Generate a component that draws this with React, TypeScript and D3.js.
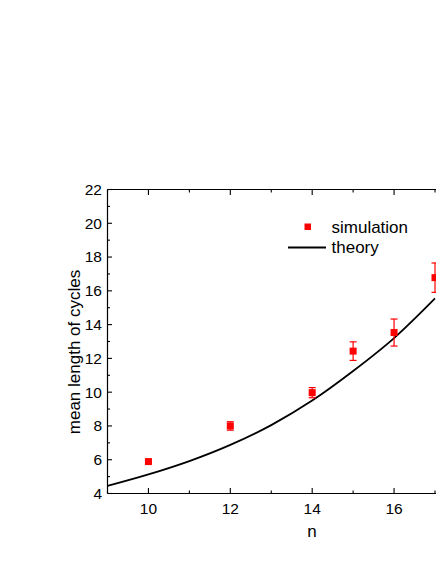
import React from 'react';
import * as d3 from 'd3';

// simulation results: mean cycle length with error bars
const simN = [10, 12, 14, 15, 16, 17];
const simMean = [5.89, 8.0, 9.97, 12.43, 13.53, 16.78];
const simErr = [0.08, 0.25, 0.3, 0.55, 0.8, 0.87];

const theoryN = [9, 10, 11, 12, 13, 14, 15, 16, 17];
const theoryLen = [4.45, 5.13, 5.92, 6.88, 8.05, 9.5, 11.25, 13.2, 15.55];

const xMajor = [10, 12, 14, 16];
const xMinor = [9, 11, 13, 15, 17];
const yMajor = [4, 6, 8, 10, 12, 14, 16, 18, 20, 22];
const yMinor = [5, 7, 9, 11, 13, 15, 17, 19, 21];

const W = 436;
const H = 564;
const FONT = '"Liberation Sans", Arial, sans-serif';

export default function App() {
  const x = d3.scaleLinear().domain([9, 17]).range([107.5, 435]);
  const y = d3.scaleLinear().domain([4, 22]).range([493.5, 189.5]);
  const [x0] = x.range();
  const [yb, yt] = y.range();

  const line = d3.line<number>()
    .x((_, i) => x(theoryN[i]))
    .y(d => y(d))
    .curve(d3.curveMonotoneX);

  const red = '#ff0000';

  return (
    <svg width={W} height={H} style={{ position: 'absolute', left: 0, top: 0, background: '#fff' }}
      fontFamily={FONT}>
      {/* frame: left, bottom, top (right edge is cropped) */}
      <line x1={x0} x2={x0} y1={yt} y2={yb} stroke='#000' strokeWidth={1.2} />
      <line x1={x0} x2={W} y1={yb} y2={yb} stroke='#000' strokeWidth={1.2} />
      <line x1={x0} x2={W} y1={yt} y2={yt} stroke='#000' strokeWidth={1.2} />

      {/* x ticks, inward on bottom and top */}
      {xMajor.map(v => (
        <g key={'xm' + v}>
          <line x1={x(v)} x2={x(v)} y1={yb} y2={yb - 5.5} stroke='#000' strokeWidth={1.1} />
          <line x1={x(v)} x2={x(v)} y1={yt} y2={yt + 5.5} stroke='#000' strokeWidth={1.1} />
          <text x={x(v)} y={yb + 20} textAnchor='middle' fontSize={15.5}>{v}</text>
        </g>
      ))}
      {xMinor.map(v => (
        <g key={'xn' + v}>
          <line x1={x(v)} x2={x(v)} y1={yb} y2={yb - 3} stroke='#000' strokeWidth={1.1} />
          <line x1={x(v)} x2={x(v)} y1={yt} y2={yt + 3} stroke='#000' strokeWidth={1.1} />
        </g>
      ))}

      {/* y ticks */}
      {yMajor.map(v => (
        <g key={'ym' + v}>
          <line x1={x0} x2={x0 + 4.5} y1={y(v)} y2={y(v)} stroke='#000' strokeWidth={1.1} />
          <text x={102} y={y(v)} dy='0.35em' textAnchor='end' fontSize={15.5}>{v}</text>
        </g>
      ))}
      {yMinor.map(v => (
        <line key={'yn' + v} x1={x0} x2={x0 + 2.5} y1={y(v)} y2={y(v)} stroke='#000' strokeWidth={1.1} />
      ))}

      {/* axis titles */}
      <text x={312} y={537} textAnchor='middle' fontSize={17}>n</text>
      <text transform='translate(74,352) rotate(-90)' textAnchor='middle' dy='0.35em' fontSize={17}>
        mean length of cycles
      </text>

      {/* theory */}
      <path d={line(theoryLen) || ''} fill='none' stroke='#000' strokeWidth={1.8} />

      {/* simulation */}
      {simN.map((n, i) => {
        const cx = x(n);
        const lo = y(simMean[i] - simErr[i]);
        const hi = y(simMean[i] + simErr[i]);
        return (
          <g key={'s' + n} stroke={red} strokeWidth={1.2}>
            <line x1={cx} x2={cx} y1={lo} y2={hi} />
            <line x1={cx - 3.5} x2={cx + 3.5} y1={lo} y2={lo} />
            <line x1={cx - 3.5} x2={cx + 3.5} y1={hi} y2={hi} />
            <rect x={cx - 3.5} y={y(simMean[i]) - 3.5} width={7} height={7} fill={red} stroke='none' />
          </g>
        );
      })}

      {/* legend */}
      <rect x={304.5} y={223.5} width={6.5} height={6.5} fill={red} />
      <text x={331.5} y={233} fontSize={17}>simulation</text>
      <line x1={288} x2={326} y1={247.5} y2={247.5} stroke='#000' strokeWidth={1.8} />
      <text x={331.5} y={253} fontSize={17}>theory</text>
    </svg>
  );
}
